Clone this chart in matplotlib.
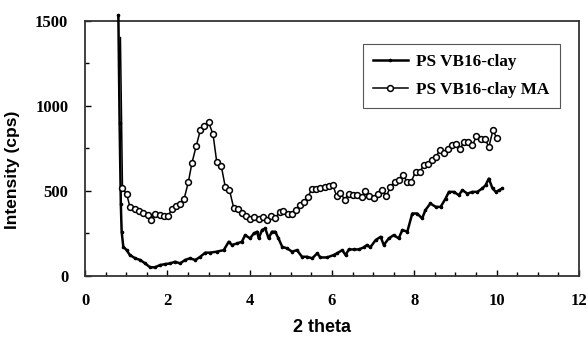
import numpy as np
import matplotlib
matplotlib.use("Agg")
from matplotlib import pyplot as plt
from matplotlib.ticker import MultipleLocator

# PS VB16-clay (line with tiny markers)
x_clay = [0.81, 0.84, 0.87, 0.89, 0.93, 1.01, 1.09, 1.22, 1.34, 1.46, 1.58, 1.70,
          1.82, 1.95, 2.07, 2.19, 2.31, 2.43, 2.55, 2.68, 2.80, 2.92, 3.04, 3.20,
          3.37, 3.49, 3.57, 3.69, 3.81, 3.89, 4.01, 4.10, 4.18, 4.22, 4.30, 4.38,
          4.46, 4.54, 4.62, 4.70, 4.79, 4.91, 5.03, 5.15, 5.27, 5.39, 5.52, 5.64,
          5.72, 5.88, 6.04, 6.12, 6.25, 6.33, 6.41, 6.53, 6.65, 6.77, 6.85, 6.93,
          7.06, 7.18, 7.26, 7.38, 7.50, 7.62, 7.71, 7.83, 7.95, 8.07, 8.19, 8.27,
          8.39, 8.52, 8.64, 8.76, 8.84, 8.96, 9.08, 9.17, 9.29, 9.41, 9.53, 9.65,
          9.73, 9.81, 9.90, 9.98, 10.06, 10.14]
y_clay = [1530, 900, 420, 260, 172, 152, 123, 104, 94, 74, 51, 51,
          64, 70, 74, 84, 74, 94, 104, 94, 113, 137, 137, 143,
          152, 201, 182, 191, 201, 240, 221, 250, 260, 221, 270, 279,
          221, 260, 260, 221, 172, 162, 143, 152, 113, 113, 104, 133,
          109, 109, 123, 133, 152, 123, 156, 156, 156, 168, 182, 168,
          211, 230, 182, 221, 240, 221, 270, 260, 367, 367, 338, 387,
          426, 406, 406, 455, 494, 494, 475, 504, 484, 494, 494, 514,
          533, 572, 514, 494, 504, 514]

# PS VB16-clay MA (open circles)
x_ma = [0.86, 0.91, 1.01, 1.09, 1.22, 1.31, 1.42, 1.52, 1.60, 1.70, 1.81, 1.91,
        2.01, 2.11, 2.21, 2.31, 2.41, 2.51, 2.60, 2.70, 2.80, 2.90, 3.00, 3.11,
        3.20, 3.31, 3.41, 3.51, 3.61, 3.71, 3.81, 3.91, 4.01, 4.11, 4.22, 4.32,
        4.42, 4.52, 4.62, 4.73, 4.82, 4.92, 5.03, 5.13, 5.23, 5.31, 5.41, 5.51,
        5.61, 5.72, 5.82, 5.92, 6.02, 6.11, 6.20, 6.31, 6.41, 6.51, 6.61, 6.72,
        6.81, 6.91, 7.01, 7.12, 7.22, 7.32, 7.42, 7.52, 7.62, 7.72, 7.83, 7.92,
        8.03, 8.13, 8.23, 8.33, 8.44, 8.53, 8.62, 8.72, 8.81, 8.92, 9.02, 9.12,
        9.20, 9.30, 9.41, 9.51, 9.61, 9.72, 9.81, 9.91, 10.00]
y_ma = [1400, 514, 484, 406, 391, 383, 371, 357, 328, 367, 357, 351,
        351, 391, 410, 422, 455, 552, 666, 762, 855, 879, 904, 832,
        670, 646, 520, 504, 402, 394, 371, 353, 332, 344, 332, 344,
        328, 351, 338, 377, 383, 367, 367, 387, 416, 435, 465, 508,
        508, 514, 520, 527, 537, 469, 488, 449, 484, 474, 474, 461,
        500, 469, 459, 484, 504, 469, 523, 552, 562, 596, 552, 552,
        611, 611, 650, 660, 680, 699, 742, 722, 748, 767, 773, 748,
        787, 787, 767, 820, 806, 806, 757, 855, 812]

x_ticks = [0, 2, 4, 6, 8, 10, 12]
y_ticks = [0, 500, 1000, 1500]

serif = ["Liberation Serif", "DejaVu Serif"]
sans = ["Liberation Sans", "DejaVu Sans"]

fig = plt.figure(figsize=(5.88, 3.37), dpi=100)
ax = fig.add_axes([0.1446, 0.181, 0.840, 0.758])

ax.plot(x_clay, y_clay, color="black", lw=1.8, marker="o", ms=1.6,
        clip_on=False, zorder=3, label="PS VB16-clay")
ax.plot(x_ma, y_ma, color="black", lw=1.1, marker="o", ms=4.2, mfc="white",
        mew=1.1, markevery=slice(1, None), zorder=4, label="PS VB16-clay MA")

ax.set_xlim(0, 12)
ax.set_ylim(0, 1500)
ax.set_xticks(x_ticks)
ax.set_yticks(y_ticks)
ax.xaxis.set_minor_locator(MultipleLocator(0.5))
ax.yaxis.set_minor_locator(MultipleLocator(250))
ax.tick_params(which="both", direction="in", top=False, right=False, width=1)
ax.tick_params(which="major", length=4, pad=12)
ax.tick_params(which="minor", length=3)
for lab in ax.get_xticklabels() + ax.get_yticklabels():
    lab.set_family(serif)
    lab.set_fontweight("bold")
    lab.set_fontsize(12)
for sp in ax.spines.values():
    sp.set_linewidth(1.3)
    sp.set_color("#333333")

ax.set_xlabel("2 theta", family=sans, fontweight="bold", fontsize=13)
ax.xaxis.set_label_coords(0.48, -0.17)
ax.set_ylabel("Intensity (cps)", family=sans, fontweight="bold", fontsize=12.5)
ax.yaxis.set_label_coords(-0.131, 0.414)

leg = ax.legend(loc="upper left", bbox_to_anchor=(0.563, 0.91),
                prop={"family": serif, "weight": "bold", "size": 12.3},
                fancybox=False, edgecolor="#555555", framealpha=1,
                handlelength=2.0, handletextpad=0.5, borderpad=0.6,
                labelspacing=0.7, borderaxespad=0)
leg.get_frame().set_linewidth(0.8)

fig.savefig("out.png", dpi=100)
